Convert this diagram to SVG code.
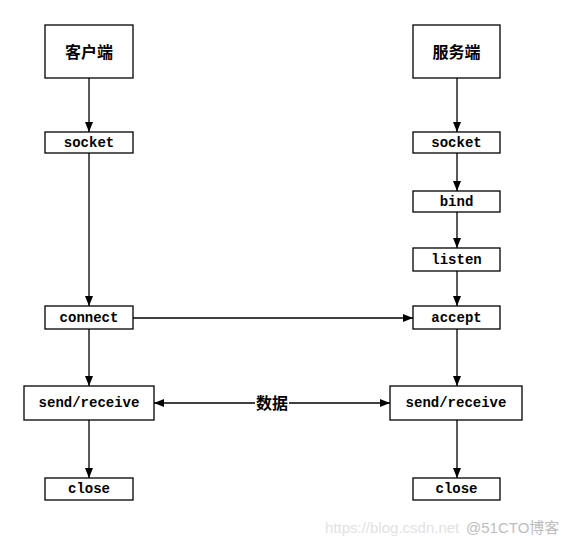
<svg xmlns="http://www.w3.org/2000/svg" width="574" height="546" viewBox="0 0 574 546">
<style>
.box{fill:#fff;stroke:#000;stroke-width:1.3}
.t{font-family:"Liberation Mono","Noto Sans CJK SC",monospace;font-size:14px;font-weight:bold;text-anchor:middle;dominant-baseline:central;fill:#000}
.c{font-family:"Noto Sans CJK SC",sans-serif;font-size:16px;font-weight:bold;text-anchor:middle;dominant-baseline:central;fill:#000}
.e{stroke:#000;stroke-width:1.3;fill:none}
</style>
<defs>
<marker id="ah" viewBox="0 0 10 8" refX="10" refY="4" markerWidth="10" markerHeight="8" markerUnits="userSpaceOnUse" orient="auto-start-reverse">
<path d="M0,0L10,4L0,8z" fill="#000"/>
</marker>
</defs>
<rect width="574" height="546" fill="#fff"/>
<g id="connectors">
<line class="e" x1="89" y1="78" x2="89" y2="132" marker-end="url(#ah)"/>
<line class="e" x1="89" y1="153" x2="89" y2="306" marker-end="url(#ah)"/>
<line class="e" x1="89" y1="329" x2="89" y2="386" marker-end="url(#ah)"/>
<line class="e" x1="89" y1="420" x2="89" y2="478" marker-end="url(#ah)"/>
<line class="e" x1="457" y1="78" x2="457" y2="132" marker-end="url(#ah)"/>
<line class="e" x1="457" y1="153" x2="457" y2="191" marker-end="url(#ah)"/>
<line class="e" x1="457" y1="212" x2="457" y2="248" marker-end="url(#ah)"/>
<line class="e" x1="457" y1="271" x2="457" y2="306" marker-end="url(#ah)"/>
<line class="e" x1="457" y1="329" x2="457" y2="386" marker-end="url(#ah)"/>
<line class="e" x1="457" y1="420" x2="457" y2="478" marker-end="url(#ah)"/>
<line class="e" x1="133" y1="318" x2="413" y2="318" marker-end="url(#ah)"/>
<line class="e" x1="154" y1="403" x2="390" y2="403" marker-start="url(#ah)" marker-end="url(#ah)"/>
<rect x="255" y="394" width="34" height="18" fill="#fff"/>
<text class="c" x="272" y="402">数据</text>
</g>
<g id="client"><rect class="box" x="45" y="25" width="88" height="53"/><text class="c" x="89" y="51">客户端</text></g>
<g id="server"><rect class="box" x="413" y="25" width="87" height="53"/><text class="c" x="456.5" y="51">服务端</text></g>
<g id="c-socket"><rect class="box" x="45" y="132" width="88" height="21"/><text class="t" x="89" y="142.5">socket</text></g>
<g id="s-socket"><rect class="box" x="413" y="132" width="87" height="21"/><text class="t" x="456.5" y="142.5">socket</text></g>
<g id="s-bind"><rect class="box" x="413" y="191" width="87" height="21"/><text class="t" x="456.5" y="201.5">bind</text></g>
<g id="s-listen"><rect class="box" x="413" y="248" width="87" height="23"/><text class="t" x="456.5" y="259.5">listen</text></g>
<g id="c-connect"><rect class="box" x="45" y="306" width="88" height="23"/><text class="t" x="89" y="317.5">connect</text></g>
<g id="s-accept"><rect class="box" x="413" y="306" width="87" height="23"/><text class="t" x="456.5" y="317.5">accept</text></g>
<g id="c-send"><rect class="box" x="24" y="386" width="130" height="34"/><text class="t" x="89" y="403">send/receive</text></g>
<g id="s-send"><rect class="box" x="390" y="386" width="132" height="34"/><text class="t" x="456" y="403">send/receive</text></g>
<g id="c-close"><rect class="box" x="45" y="478" width="88" height="22"/><text class="t" x="89" y="489">close</text></g>
<g id="s-close"><rect class="box" x="413" y="478" width="87" height="22"/><text class="t" x="456.5" y="489">close</text></g>
<g id="watermark">
<text x="325" y="533" font-family="'Liberation Sans','Noto Sans CJK SC',sans-serif" font-size="15" fill="#e2e2e2">https://blog.csdn.net</text>
<text x="466" y="533" font-family="'Liberation Sans','Noto Sans CJK SC',sans-serif" font-size="15" fill="#bdbdbd">@51CTO博客</text>
</g>
</svg>
